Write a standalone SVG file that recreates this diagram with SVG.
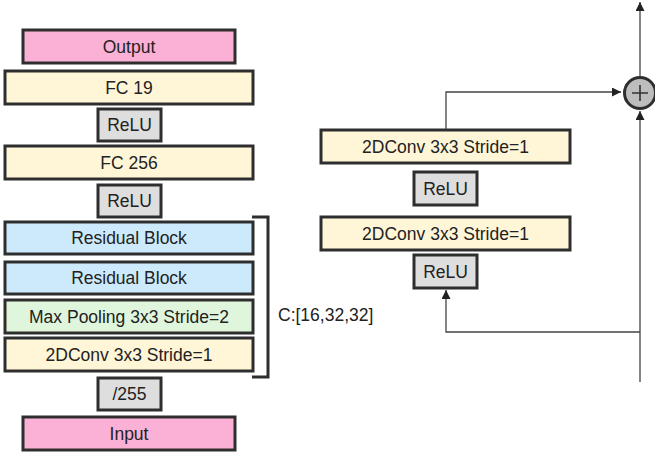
<svg xmlns="http://www.w3.org/2000/svg" width="655" height="456" viewBox="0 0 655 456">
<style>
.b{stroke:#2e2e2e;stroke-width:3}
.pink{fill:#fbb0d6}
.yel{fill:#fff6d8}
.gry{fill:#dedede}
.blu{fill:#cdeafc}
.grn{fill:#e0f6dc}
text{font-family:"Liberation Sans",Arial,sans-serif;font-size:17.5px;fill:#222;text-anchor:middle;dominant-baseline:central}
.c{stroke:#444;stroke-width:1.3;fill:none}
</style>
<defs>
<marker id="ah" viewBox="0 0 10 10" refX="10" refY="5" markerWidth="9" markerHeight="9" markerUnits="userSpaceOnUse" orient="auto"><path d="M0,0L10,5L0,10z" fill="#222"/></marker>
</defs>
<rect width="655" height="456" fill="#fff"/>
<g id="output"><rect class="b pink" x="23" y="30" width="212" height="33"/><text x="129" y="46.5">Output</text></g>
<g id="fc19"><rect class="b yel" x="5" y="71" width="248" height="33"/><text x="129" y="87.5">FC 19</text></g>
<g id="relu1"><rect class="b gry" x="98" y="109" width="63" height="32"/><text x="129.5" y="125">ReLU</text></g>
<g id="fc256"><rect class="b yel" x="5" y="146" width="248" height="33"/><text x="129" y="162.5">FC 256</text></g>
<g id="relu2"><rect class="b gry" x="98" y="185" width="63" height="32"/><text x="129.5" y="201">ReLU</text></g>
<g id="res1"><rect class="b blu" x="5" y="222" width="248" height="32"/><text x="129" y="238">Residual Block</text></g>
<g id="res2"><rect class="b blu" x="5" y="262" width="248" height="32"/><text x="129" y="278">Residual Block</text></g>
<g id="maxpool"><rect class="b grn" x="5" y="300" width="248" height="33"/><text x="129" y="316.5">Max Pooling 3x3 Stride=2</text></g>
<g id="conv"><rect class="b yel" x="5" y="338" width="248" height="33"/><text x="129" y="354.5">2DConv 3x3 Stride=1</text></g>
<g id="div255"><rect class="b gry" x="98" y="378" width="63" height="32"/><text x="129.5" y="394">/255</text></g>
<g id="input"><rect class="b pink" x="23" y="417" width="212" height="33"/><text x="129" y="433.5">Input</text></g>
<g id="bracket"><path d="M252,217H268V377H252" fill="none" stroke="#2e2e2e" stroke-width="3"/><text x="278" y="315" style="text-anchor:start">C:[16,32,32]</text></g>
<g id="rconv1"><rect class="b yel" x="321" y="130" width="249" height="33"/><text x="445.5" y="146.5">2DConv 3x3 Stride=1</text></g>
<g id="rrelu1"><rect class="b gry" x="414" y="172" width="63" height="33"/><text x="445.5" y="188.5">ReLU</text></g>
<g id="rconv2"><rect class="b yel" x="321" y="217" width="249" height="33"/><text x="445.5" y="233.5">2DConv 3x3 Stride=1</text></g>
<g id="rrelu2"><rect class="b gry" x="414" y="255" width="63" height="33"/><text x="445.5" y="271.5">ReLU</text></g>
<g id="add"><circle cx="640" cy="93" r="15.5" fill="#bdbdbd" stroke="#2e2e2e" stroke-width="3"/><path d="M632,93H648M640,85V101" stroke="#333" stroke-width="1.6"/></g>
<g id="connectors">
<path class="c" d="M446,129V92H621" marker-end="url(#ah)"/>
<path class="c" d="M640,382V111" marker-end="url(#ah)"/>
<path class="c" d="M640,332H446V290" marker-end="url(#ah)"/>
<path class="c" d="M640,76V2" marker-end="url(#ah)"/>
</g>
</svg>
